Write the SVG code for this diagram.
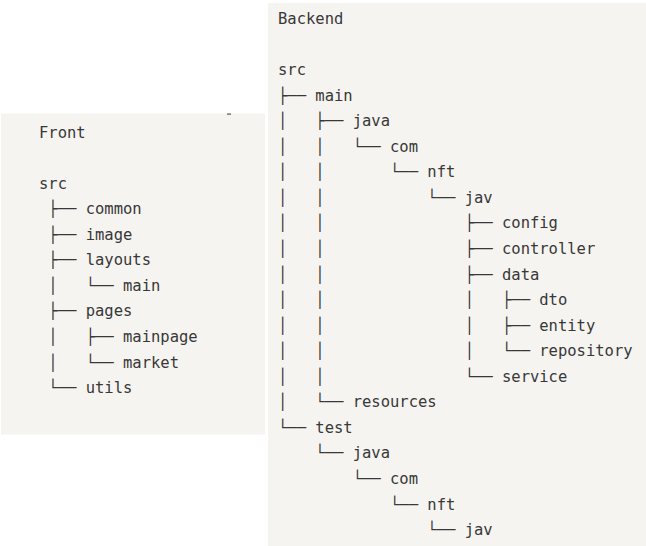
<svg xmlns="http://www.w3.org/2000/svg" width="646" height="546" viewBox="0 0 646 546">
<style>
.panel{fill:#f6f4f0}
text{font-family:"DejaVu Sans Mono","Liberation Mono",monospace;font-size:15.5px;fill:#383838;white-space:pre}
</style>
<rect width="646" height="546" fill="#ffffff"/>
<g id="front">
<rect class="panel" x="1" y="113.5" width="264" height="321"/>
<rect x="227" y="113.5" width="4" height="1.2" fill="#555"/>
<text x="39" y="137.5" xml:space="preserve">Front</text>
<text x="39" y="188.6" xml:space="preserve">src</text>
<text x="39" y="214.2" xml:space="preserve"> ├── common</text>
<text x="39" y="239.7" xml:space="preserve"> ├── image</text>
<text x="39" y="265.3" xml:space="preserve"> ├── layouts</text>
<text x="39" y="290.8" xml:space="preserve"> │   └── main</text>
<text x="39" y="316.4" xml:space="preserve"> ├── pages</text>
<text x="39" y="341.9" xml:space="preserve"> │   ├── mainpage</text>
<text x="39" y="367.5" xml:space="preserve"> │   └── market</text>
<text x="39" y="393.0" xml:space="preserve"> └── utils</text>
</g>
<g id="backend">
<rect class="panel" x="268" y="3" width="378" height="543"/>
<text x="278" y="24" xml:space="preserve">Backend</text>
<text x="278" y="75.1" xml:space="preserve">src</text>
<text x="278" y="100.7" xml:space="preserve">├── main</text>
<text x="278" y="126.2" xml:space="preserve">│   ├── java</text>
<text x="278" y="151.8" xml:space="preserve">│   │   └── com</text>
<text x="278" y="177.3" xml:space="preserve">│   │       └── nft</text>
<text x="278" y="202.9" xml:space="preserve">│   │           └── jav</text>
<text x="278" y="228.4" xml:space="preserve">│   │               ├── config</text>
<text x="278" y="254.0" xml:space="preserve">│   │               ├── controller</text>
<text x="278" y="279.5" xml:space="preserve">│   │               ├── data</text>
<text x="278" y="305.1" xml:space="preserve">│   │               │   ├── dto</text>
<text x="278" y="330.6" xml:space="preserve">│   │               │   ├── entity</text>
<text x="278" y="356.2" xml:space="preserve">│   │               │   └── repository</text>
<text x="278" y="381.7" xml:space="preserve">│   │               └── service</text>
<text x="278" y="407.3" xml:space="preserve">│   └── resources</text>
<text x="278" y="432.8" xml:space="preserve">└── test</text>
<text x="278" y="458.4" xml:space="preserve">    └── java</text>
<text x="278" y="483.9" xml:space="preserve">        └── com</text>
<text x="278" y="509.5" xml:space="preserve">            └── nft</text>
<text x="278" y="535.0" xml:space="preserve">                └── jav</text>
</g>
<g id="connectors"/>
</svg>
